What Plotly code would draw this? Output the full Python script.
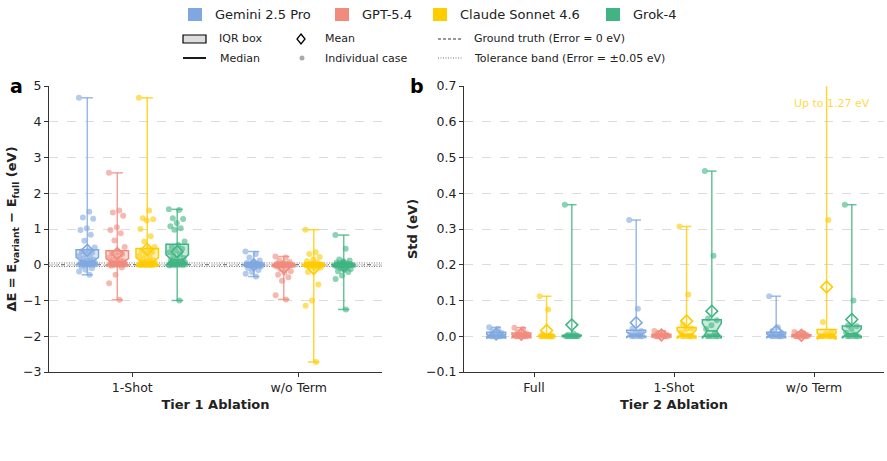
import numpy as np
import plotly.graph_objects as go

# ---------------- data ----------------
models = ["Gemini 2.5 Pro", "GPT-5.4", "Claude Sonnet 4.6", "Grok-4"]
colors = ["#80A8E0", "#F08B7D", "#FFCC00", "#40B482"]

tier1_conditions = ["1-Shot", "w/o Term"]
tier2_conditions = ["Full", "1-Shot", "w/o Term"]

# Tier 1: Delta E per case (eV)
t1_oneshot_gemini = [4.67, 1.48, 1.32, 1.29, 1.02, 0.97, 0.84, 0.67, 0.48,
                     0.40, 0.38, 0.34, 0.30, 0.26, 0.21, 0.17, 0.14, 0.11,
                     0.09, 0.07, 0.05, 0.04, 0.03, 0.02, 0.02, 0.01, 0.01,
                     0.0, 0.0, 0.0, 0.0, -0.05, -0.10, -0.14, -0.19, -0.28]
t1_oneshot_gpt = [2.57, 1.52, 1.46, 1.37, 1.05, 0.97, 0.88, 0.68, 0.50,
                  0.36, 0.33, 0.30, 0.25, 0.21, 0.17, 0.13, 0.10, 0.08,
                  0.06, 0.05, 0.04, 0.03, 0.02, 0.02, 0.01, 0.01, 0.0,
                  0.0, 0.0, 0.0, 0.0, -0.03, -0.08, -0.28, -0.52, -0.98]
t1_oneshot_claude = [4.67, 1.52, 1.30, 1.27, 1.24, 1.00, 0.80, 0.65, 0.50,
                     0.44, 0.40, 0.35, 0.30, 0.25, 0.20, 0.16, 0.12, 0.09,
                     0.07, 0.05, 0.04, 0.03, 0.02, 0.01, 0.01, 0.0, 0.0,
                     0.0, 0.0, 0.0, 0.0, 0.0, 0.0, 0.0, 0.0, 0.0]
t1_oneshot_grok = [1.55, 1.53, 1.30, 1.28, 1.17, 1.08, 1.02, 0.98, 0.65,
                   0.55, 0.50, 0.45, 0.40, 0.35, 0.30, 0.24, 0.19, 0.15,
                   0.12, 0.10, 0.08, 0.06, 0.05, 0.04, 0.03, 0.02, 0.01,
                   0.01, 0.0, 0.0, 0.0, 0.0, 0.0, 0.0, -0.02, -1.00]
t1_woterm_gemini = [0.37, 0.30, 0.20, 0.12, 0.08, 0.05, 0.03, 0.02, 0.01, 0.01,
                    0.0, 0.0, 0.0, 0.0, 0.0, 0.0, 0.0, 0.0, 0.0, 0.0, 0.0, 0.0,
                    0.0, 0.0, 0.0, 0.0, 0.0,
                    -0.02, -0.03, -0.05, -0.08, -0.10, -0.15, -0.20, -0.25, -0.33]
t1_woterm_gpt = [0.23, 0.20, 0.12, 0.08, 0.05, 0.03, 0.02, 0.01,
                 0.0, 0.0, 0.0, 0.0, 0.0, 0.0, 0.0, 0.0, 0.0, 0.0, 0.0, 0.0,
                 0.0, 0.0, 0.0, 0.0,
                 -0.02, -0.03, -0.05, -0.08, -0.12, -0.18, -0.22, -0.28, -0.35,
                 -0.45, -0.85, -0.97]
t1_woterm_claude = [0.98, 0.35, 0.30, 0.22, 0.15, 0.10, 0.06, 0.03, 0.01,
                    0.0, 0.0, 0.0, 0.0, 0.0, 0.0, 0.0, 0.0, 0.0, 0.0, 0.0, 0.0,
                    0.0, 0.0, 0.0, 0.0, 0.0,
                    -0.02, -0.04, -0.05, -0.08, -0.10, -0.20, -0.55, -1.00, -1.15, -2.72]
t1_woterm_grok = [0.83, 0.45, 0.15, 0.12, 0.10, 0.06, 0.04, 0.02, 0.01,
                  0.0, 0.0, 0.0, 0.0, 0.0, 0.0, 0.0, 0.0, 0.0, 0.0, 0.0, 0.0,
                  0.0, 0.0, 0.0, 0.0,
                  -0.02, -0.05, -0.08, -0.10, -0.12, -0.15, -0.18, -0.20, -0.30,
                  -0.40, -1.25]

# Tier 2: Std across repeats (eV)
t2_full_gemini = [0.025, 0.020, 0.015, 0.010, 0.005, 0, 0, 0, 0, 0, 0, 0]
t2_full_gpt = [0.024, 0.020, 0.012, 0.008, 0.004, 0, 0, 0, 0, 0, 0, 0]
t2_full_claude = [0.112, 0.075, 0.005, 0, 0, 0, 0, 0, 0, 0, 0, 0]
t2_full_grok = [0.368, 0.008, 0.004, 0.002, 0, 0, 0, 0, 0, 0, 0, 0]
t2_oneshot_gemini = [0.325, 0.077, 0.022, 0.015, 0.010, 0.005, 0.003, 0, 0, 0, 0, 0]
t2_oneshot_gpt = [0.015, 0.010, 0.008, 0.005, 0.003, 0, 0, 0, 0, 0, 0, 0]
t2_oneshot_claude = [0.307, 0.117, 0.033, 0.022, 0.020, 0.010, 0, 0, 0, 0, 0, 0]
t2_oneshot_grok = [0.462, 0.225, 0.050, 0.045, 0.031, 0.020, 0.010, 0, 0, 0, 0, 0]
t2_woterm_gemini = [0.112, 0.025, 0.015, 0.010, 0.005, 0.003, 0, 0, 0, 0, 0, 0]
t2_woterm_gpt = [0.012, 0.009, 0.006, 0.004, 0.002, 0, 0, 0, 0, 0, 0, 0]
t2_woterm_claude = [1.27, 0.325, 0.040, 0.012, 0.008, 0, 0, 0, 0, 0, 0, 0]
t2_woterm_grok = [0.368, 0.100, 0.030, 0.028, 0.020, 0.010, 0.005, 0, 0, 0, 0, 0]

tier1 = [[t1_oneshot_gemini, t1_oneshot_gpt, t1_oneshot_claude, t1_oneshot_grok],
         [t1_woterm_gemini, t1_woterm_gpt, t1_woterm_claude, t1_woterm_grok]]
tier2 = [[t2_full_gemini, t2_full_gpt, t2_full_claude, t2_full_grok],
         [t2_oneshot_gemini, t2_oneshot_gpt, t2_oneshot_claude, t2_oneshot_grok],
         [t2_woterm_gemini, t2_woterm_gpt, t2_woterm_claude, t2_woterm_grok]]

# ---------------- layout constants ----------------
W, H = 887, 461
L, R, T, B = 49, 3, 86, 89
PW, PH = W - L - R, H - T - B
FONT = "DejaVu Sans"
offsets = [-0.27, -0.09, 0.09, 0.27]
BOXW = 0.135
JIT = 0.05


def px(x):
    return (x - L) / PW


def py(y):
    return 1 - (y - T) / PH


def rgba(hexc, a):
    h = hexc.lstrip("#")
    r, g, b = int(h[0:2], 16), int(h[2:4], 16), int(h[4:6], 16)
    return f"rgba({r},{g},{b},{a})"


fig = go.Figure()


def add_box(vals, pos, color, xa, ya):
    v = np.asarray(vals, dtype=float)
    n = len(v)
    q1, med, q3 = np.percentile(v, [25, 50, 75])
    iqr = q3 - q1
    notch = 1.57 * iqr / np.sqrt(n)
    cilo, cihi = med - notch, med + notch
    bl, br = pos - BOXW / 2, pos + BOXW / 2
    nl, nr = pos - BOXW / 4, pos + BOXW / 4
    bx = [bl, br, br, nr, br, br, bl, bl, nl, bl, bl]
    by = [q1, q1, cilo, med, cihi, q3, q3, cihi, med, cilo, q1]
    common = dict(xaxis=xa, yaxis=ya, showlegend=False, hoverinfo="skip")
    # whiskers
    fig.add_trace(go.Scatter(x=[pos, pos, None, pos, pos], y=[q3, v.max(), None, q1, v.min()],
                             mode="lines", line=dict(color=rgba(color, 0.8), width=1.5), **common))
    # caps
    fig.add_trace(go.Scatter(x=[nl, nr, None, nl, nr], y=[v.max(), v.max(), None, v.min(), v.min()],
                             mode="lines", line=dict(color=rgba(color, 0.8), width=1.5), **common))
    # box
    fig.add_trace(go.Scatter(x=bx, y=by, mode="lines", fill="toself",
                             fillcolor=rgba(color, 0.28), line=dict(color=color, width=1.5), **common))
    # median
    fig.add_trace(go.Scatter(x=[nl, nr], y=[med, med], mode="lines",
                             line=dict(color=color, width=1.5), **common))
    # points
    jit = ((np.arange(n) * 0.6180339887) % 1 - 0.5) * 2 * JIT
    fig.add_trace(go.Scatter(x=pos + jit, y=v, mode="markers",
                             marker=dict(color=rgba(color, 0.6), size=6, line=dict(width=0)), **common))
    # mean
    fig.add_trace(go.Scatter(x=[pos], y=[v.mean()], mode="markers",
                             marker=dict(symbol="diamond-open", size=9, color=color,
                                         line=dict(color=color, width=1.6)), **common))


for ci, group in enumerate(tier1):
    for mi, vals in enumerate(group):
        add_box(vals, ci + offsets[mi], colors[mi], "x", "y")
for ci, group in enumerate(tier2):
    for mi, vals in enumerate(group):
        add_box(vals, ci + offsets[mi], colors[mi], "x2", "y2")

axis_common = dict(showline=True, linecolor="#333333", linewidth=1.2, ticks="outside",
                   ticklen=4, tickcolor="#333333", tickwidth=1, zeroline=False,
                   tickfont=dict(family=FONT, size=12.5, color="#222222"))
grid = dict(showgrid=True, gridcolor="#dcdcdc", griddash="dash", gridwidth=0.8)

fig.update_layout(
    width=W, height=H, margin=dict(l=L, r=R, t=T, b=B),
    paper_bgcolor="white", plot_bgcolor="white",
    font=dict(family=FONT, color="#222222"),
    xaxis=dict(domain=[0, 333 / PW], range=[-0.5, 1.5], tickvals=list(range(len(tier1_conditions))),
               ticktext=tier1_conditions, showgrid=False,
               title=dict(text="<b>Tier 1 Ablation</b>", font=dict(size=13, family=FONT), standoff=5),
               **axis_common),
    yaxis=dict(range=[-3, 5], dtick=1, automargin=False,
               title=dict(text="<b>ΔE = E<sub>variant</sub> − E<sub>full</sub> (eV)</b>",
                          font=dict(size=13, family=FONT), standoff=3),
               **grid, **axis_common),
    xaxis2=dict(domain=[(464 - L) / PW, 1], range=[-0.5, 2.5], anchor="y2",
                tickvals=list(range(len(tier2_conditions))), ticktext=tier2_conditions, showgrid=False,
                title=dict(text="<b>Tier 2 Ablation</b>", font=dict(size=13, family=FONT), standoff=5),
                **axis_common),
    yaxis2=dict(range=[-0.1, 0.7], dtick=0.1, tickformat=".1f", anchor="x2", automargin=False,
                title=dict(text="<b>Std (eV)</b>", font=dict(size=13, family=FONT), standoff=5),
                **grid, **axis_common),
)

# reference lines (panel a)
fig.add_shape(type="line", xref="x domain", yref="y", x0=0, x1=1, y0=0, y1=0,
              line=dict(color="#555555", width=1.2, dash="4px,2px"), layer="below")
for tol in (-0.05, 0.05):
    fig.add_shape(type="line", xref="x domain", yref="y", x0=0, x1=1, y0=tol, y1=tol,
                  line=dict(color="#777777", width=1, dash="1px,1.5px"), layer="below")

# overflow note (panel b)
claude_max = max(t2_woterm_claude)
fig.add_annotation(x=2 + offsets[2] + 0.04, y=0.65, xref="x2", yref="y2",
                   text=f"Up to {claude_max:.2f} eV", showarrow=False,
                   xanchor="center", yanchor="middle",
                   font=dict(family=FONT, size=11, color=rgba(colors[2], 0.75)))

# panel labels
fig.add_annotation(x=px(16), y=py(86), xref="paper", yref="paper", text="<b>a</b>",
                   showarrow=False, xanchor="center", yanchor="middle",
                   font=dict(family=FONT, size=19, color="black"))
fig.add_annotation(x=px(417), y=py(86), xref="paper", yref="paper", text="<b>b</b>",
                   showarrow=False, xanchor="center", yanchor="middle",
                   font=dict(family=FONT, size=19, color="black"))

# ---------------- legend (manual) ----------------
sq_x = [188, 335, 433, 606]
for i, m in enumerate(models):
    fig.add_shape(type="rect", xref="paper", yref="paper", x0=px(sq_x[i]), x1=px(sq_x[i] + 14),
                  y0=py(8), y1=py(21), fillcolor=colors[i], line=dict(width=0))
    fig.add_annotation(x=px(sq_x[i] + 25), y=py(14.5), xref="paper", yref="paper", text=m,
                       showarrow=False, xanchor="left", yanchor="middle",
                       font=dict(family=FONT, size=13, color="#222222"))

r2, r3 = 39, 58
fig.add_shape(type="rect", xref="paper", yref="paper", x0=px(183), x1=px(206), y0=py(35), y1=py(43),
              fillcolor="#dddddd", line=dict(color="black", width=1.2))
fig.add_shape(type="line", xref="paper", yref="paper", x0=px(183), x1=px(206), y0=py(r3), y1=py(r3),
              line=dict(color="black", width=1.8))
fig.add_shape(type="path", xref="paper", yref="paper",
              path=f"M {px(301)},{py(34)} L {px(305)},{py(r2)} L {px(301)},{py(44)} L {px(297)},{py(r2)} Z",
              line=dict(color="black", width=1.3), fillcolor="white")
fig.add_shape(type="circle", xref="paper", yref="paper", x0=px(299.5), x1=px(304.5), y0=py(55.5), y1=py(60.5),
              fillcolor="#aaaaaa", line=dict(width=0))
fig.add_shape(type="line", xref="paper", yref="paper", x0=px(438), x1=px(463), y0=py(r2), y1=py(r2),
              line=dict(color="#333333", width=1.1, dash="3px,2px"))
fig.add_shape(type="line", xref="paper", yref="paper", x0=px(438), x1=px(463), y0=py(r3), y1=py(r3),
              line=dict(color="#777777", width=1, dash="1px,1.5px"))

leg_texts = [(217, r2, "IQR box"), (218, r3, "Median"), (323, r2, "Mean"), (323, r3, "Individual case"),
             (472, r2, "Ground truth (Error = 0 eV)"), (472, r3, "Tolerance band (Error = ±0.05 eV)")]
for x, y, t in leg_texts:
    fig.add_annotation(x=px(x), y=py(y), xref="paper", yref="paper", text=t, showarrow=False,
                       xanchor="left", yanchor="middle", font=dict(family=FONT, size=11, color="#222222"))

fig.write_html("out.html")
